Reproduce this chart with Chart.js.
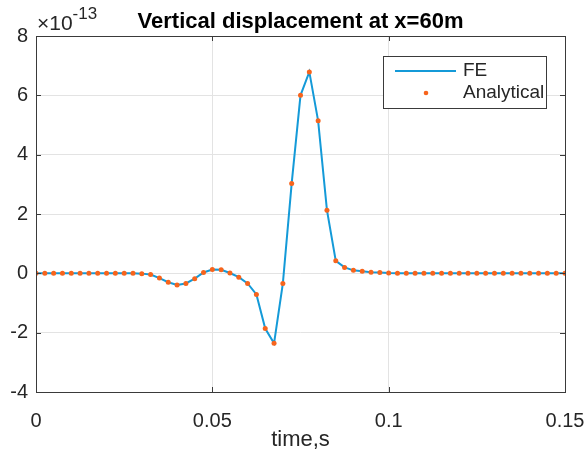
<!DOCTYPE html>
<html>
<head>
<meta charset="utf-8">
<script src="https://cdn.jsdelivr.net/npm/chart.js@4/dist/chart.umd.min.js"></script>
<style>
  html, body { margin: 0; padding: 0; background: #fff; }
  canvas { display: block; }
</style>
</head>
<body>
<canvas id="chart" width="586" height="454"></canvas>
<script>
// time axis, s
const timeS = [
  0, 0.0025, 0.005, 0.0075, 0.01, 0.0125, 0.015, 0.0175, 0.02, 0.0225,
  0.025, 0.0275, 0.03, 0.0325, 0.035, 0.0375, 0.04, 0.0425, 0.045, 0.0475,
  0.05, 0.0525, 0.055, 0.0575, 0.06, 0.0625, 0.065, 0.0675, 0.07, 0.0725,
  0.075, 0.0775, 0.08, 0.0825, 0.085, 0.0875, 0.09, 0.0925, 0.095, 0.0975,
  0.1, 0.1025, 0.105, 0.1075, 0.11, 0.1125, 0.115, 0.1175, 0.12, 0.1225,
  0.125, 0.1275, 0.13, 0.1325, 0.135, 0.1375, 0.14, 0.1425, 0.145, 0.1475,
  0.15
];

// vertical displacement in units of 1e-13 m
const feDisp = [
  0, 0, 0, 0, 0, 0, 0, 0, 0, 0,
  0, 0, -0.01, -0.04, -0.16, -0.30, -0.39, -0.34, -0.18, 0.03,
  0.13, 0.12, 0.01, -0.13, -0.34, -0.71, -1.86, -2.36, -0.34, 3.03,
  6.00, 6.79, 5.14, 2.13, 0.42, 0.20, 0.10, 0.07, 0.04, 0.03,
  0.01, 0, 0, 0, 0, 0, 0, 0, 0, 0,
  0, 0, 0, 0, 0, 0, 0, 0, 0, 0,
  0
];
const analyticalDisp = [
  0, 0, 0, 0, 0, 0, 0, 0, 0, 0,
  0, 0, -0.01, -0.04, -0.16, -0.30, -0.39, -0.34, -0.18, 0.03,
  0.13, 0.12, 0.01, -0.13, -0.34, -0.71, -1.86, -2.36, -0.34, 3.03,
  6.00, 6.79, 5.14, 2.13, 0.42, 0.20, 0.10, 0.07, 0.04, 0.03,
  0.01, 0, 0, 0, 0, 0, 0, 0, 0, 0,
  0, 0, 0, 0, 0, 0, 0, 0, 0, 0,
  0
];

const xTicks = [0, 0.05, 0.1, 0.15];
const xTickLabels = ["0", "0.05", "0.1", "0.15"];
const yTicks = [-4, -2, 0, 2, 4, 6, 8];
const yTickLabels = ["-4", "-2", "0", "2", "4", "6", "8"];

const titleText = "Vertical displacement at x=60m";
const xLabelText = "time,s";
const exponentText = "-13";

const lineColor = "#149ad8";
const dotColor = "#f7641c";
const axisColor = "#3a3a3a";
const textColor = "#262626";
const FONT = '"Liberation Sans", Arial, sans-serif';

const toPoints = (ys) => ys.map((y, i) => ({ x: timeS[i], y: y }));

// axes box, inward ticks, title, exponent, x label and legend
const matlabDecor = {
  id: "matlabDecor",
  afterDraw(chart) {
    const ctx = chart.ctx;
    const a = chart.chartArea;
    const xs = chart.scales.x;
    const ys = chart.scales.y;
    ctx.save();

    // inward tick marks
    ctx.strokeStyle = axisColor;
    ctx.lineWidth = 1;
    ctx.beginPath();
    xTicks.forEach((v) => {
      const px = Math.round(xs.getPixelForValue(v)) + 0.5;
      ctx.moveTo(px, a.bottom); ctx.lineTo(px, a.bottom - 5);
      ctx.moveTo(px, a.top); ctx.lineTo(px, a.top + 5);
    });
    yTicks.forEach((v) => {
      const py = Math.round(ys.getPixelForValue(v)) + 0.5;
      ctx.moveTo(a.left, py); ctx.lineTo(a.left + 5, py);
      ctx.moveTo(a.right, py); ctx.lineTo(a.right - 5, py);
    });
    ctx.stroke();

    // box
    ctx.strokeStyle = axisColor;
    ctx.strokeRect(Math.round(a.left) + 0.5, Math.round(a.top) + 0.5,
      Math.round(a.right - a.left), Math.round(a.bottom - a.top));

    // title
    ctx.fillStyle = "#000";
    ctx.font = "bold 22px " + FONT;
    ctx.textAlign = "center";
    ctx.textBaseline = "alphabetic";
    ctx.fillText(titleText, (a.left + a.right) / 2, 28);

    // exponent
    ctx.fillStyle = textColor;
    ctx.textAlign = "left";
    ctx.font = "21px " + FONT;
    const base = "\u00d710";
    ctx.fillText(base, a.left + 1, 30);
    const bw = ctx.measureText(base).width;
    ctx.font = "17px " + FONT;
    ctx.fillText(exponentText, a.left + 1 + bw, 19);

    // x label
    ctx.font = "22px " + FONT;
    ctx.textAlign = "center";
    ctx.fillText(xLabelText, (a.left + a.right) / 2, 446);

    // legend
    const lx = 383, ly = 56, lw = 163, lh = 52;
    ctx.fillStyle = "#fff";
    ctx.fillRect(lx, ly, lw, lh);
    ctx.strokeStyle = axisColor;
    ctx.strokeRect(lx + 0.5, ly + 0.5, lw, lh);
    const ds = chart.data.datasets;
    ctx.strokeStyle = ds[0].borderColor;
    ctx.lineWidth = 2;
    ctx.beginPath();
    ctx.moveTo(395, 71); ctx.lineTo(456, 71);
    ctx.stroke();
    ctx.fillStyle = ds[1].pointBackgroundColor;
    ctx.beginPath();
    ctx.arc(426, 93, 2.3, 0, Math.PI * 2);
    ctx.fill();
    ctx.fillStyle = textColor;
    ctx.font = "19px " + FONT;
    ctx.textAlign = "left";
    ctx.textBaseline = "middle";
    ctx.fillText(ds[0].label, 463, 71);
    ctx.fillText(ds[1].label, 463, 93);

    ctx.restore();
  },
};

new Chart(document.getElementById("chart").getContext("2d"), {
  type: "scatter",
  data: {
    datasets: [
      {
        label: "FE",
        data: toPoints(feDisp),
        showLine: true,
        borderColor: lineColor,
        borderWidth: 2,
        pointRadius: 0,
        tension: 0,
        order: 1,
      },
      {
        label: "Analytical",
        data: toPoints(analyticalDisp),
        showLine: false,
        pointRadius: 2.5,
        pointBackgroundColor: dotColor,
        pointBorderWidth: 0,
        borderColor: dotColor,
        order: 0,
      },
    ],
  },
  options: {
    responsive: false,
    animation: false,
    devicePixelRatio: 1,
    layout: { padding: { left: 0, right: 21, top: 36, bottom: 0 } },
    plugins: { legend: { display: false }, tooltip: { enabled: false } },
    scales: {
      x: {
        type: "linear",
        min: 0,
        max: 0.15,
        afterBuildTicks: (s) => { s.ticks = xTicks.map((v) => ({ value: v })); },
        afterFit: (s) => { s.height = 62; s.paddingLeft = 0; s.paddingRight = 0; },
        grid: { color: "#e3e3e3", drawTicks: false },
        border: { display: false },
        ticks: {
          padding: 17,
          color: textColor,
          font: { family: FONT, size: 20 },
          maxRotation: 0,
          callback: (v, i) => xTickLabels[i],
        },
      },
      y: {
        type: "linear",
        min: -4,
        max: 8,
        afterBuildTicks: (s) => { s.ticks = yTicks.map((v) => ({ value: v })); },
        afterFit: (s) => { s.width = 36; s.paddingTop = 0; s.paddingBottom = 0; },
        grid: { color: "#e3e3e3", drawTicks: false },
        border: { display: false },
        ticks: {
          padding: 8,
          color: textColor,
          font: { family: FONT, size: 20 },
          callback: (v, i) => yTickLabels[i],
        },
      },
    },
  },
  plugins: [matlabDecor],
});
</script>
</body>
</html>
